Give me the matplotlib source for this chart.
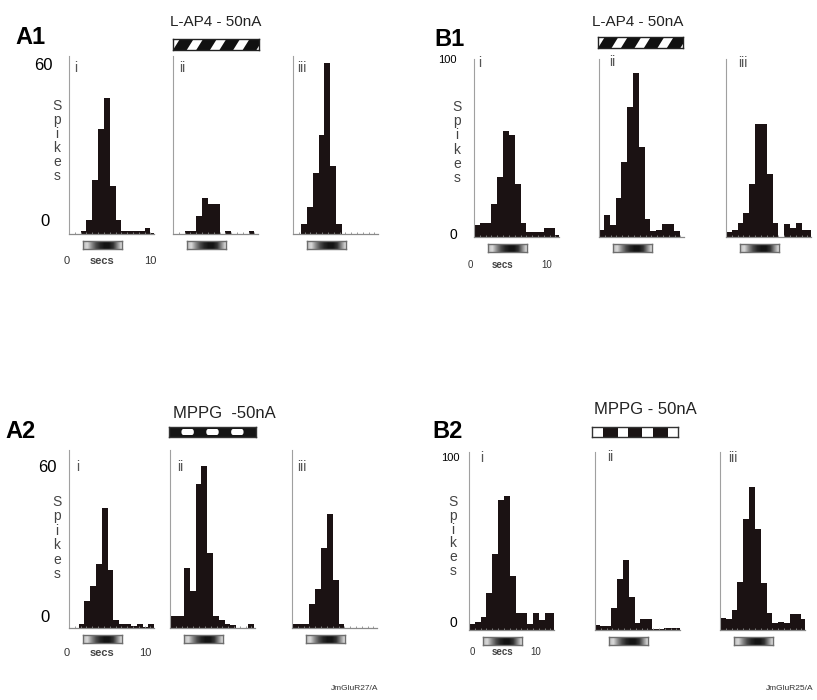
import numpy as np
import matplotlib
matplotlib.use("Agg")
import matplotlib.pyplot as plt
from matplotlib.patches import Polygon, Rectangle, Ellipse

plt.rcParams["font.family"] = ["Liberation Sans", "DejaVu Sans"]

W, H = 817, 700
BIN = 0.75          # seconds per histogram bin
XMAX = 10.9         # seconds shown on each axis
STIM = (1.8, 6.8)   # stimulus window (s)

# spike counts per bin, cell A (scale 0-60)
a1_i = [0, 0, 1, 5, 19, 37, 48, 17, 5, 1, 1, 1, 1, 2, 0.5]
a1_ii = [0, 0, 1, 1, 6.4, 12.7, 10.7, 10.7, 0, 1, 0, 0, 0, 1, 0]
a1_iii = [0, 3.4, 9.7, 21.5, 35, 60.6, 24, 3.4, 0, 0, 0, 0, 0, 0, 0]
a2_i = [0, 0, 1.4, 9.5, 14.8, 22.7, 42.6, 20.5, 3, 1.4, 1.4, 0.7, 1.4, 0.5, 1.4]
a2_ii = [4.4, 4.4, 4.4, 21.3, 13, 51, 57.4, 26.4, 4.4, 3, 1.4, 1, 0, 0, 1.5]
a2_iii = [1.4, 1.4, 1.4, 8.6, 13.8, 28.4, 40.2, 17, 1.5, 0, 0, 0, 0, 0, 0]

# spike counts per bin, cell B (scale 0-100)
b1_i = [7, 8, 8, 19, 34, 60, 58, 30, 8, 3, 3, 3, 5, 5, 1]
b1_ii = [4, 12.6, 7, 22, 42.7, 74, 93, 51, 10.4, 3.2, 3.8, 7.5, 7.5, 3.2, 0]
b1_iii = [2.8, 3.8, 7.9, 13.6, 30, 64, 64, 36, 7.9, 0, 7.5, 5, 7.9, 4, 4]
b2_i = [3.2, 4.3, 7.5, 21, 43, 74, 76, 30.5, 9.4, 9.4, 3.4, 9.4, 5.6, 9.4, 9.4]
b2_ii = [2.8, 2.3, 2.3, 12.2, 29, 39.5, 18.8, 4.1, 6.2, 6.2, 0.4, 0.4, 1, 1, 1]
b2_iii = [6.6, 6, 11.3, 27.3, 63, 81, 57.4, 26.7, 9.4, 4.1, 4.7, 4.1, 8.9, 8.9, 6]

# bin offset of the first bin in each histogram (in bins)
shift_a1 = [0, 0, 0.4]
shift_a2 = [-0.35, -0.6, 0]
shift_b1 = [0, -0.15, 0]
shift_b2 = [0, -0.2, 0]

BAR = "#1b1213"
AX_COL = "#8a8a8a"
AX_W = 84.5

fig = plt.figure(figsize=(W / 100, H / 100), dpi=100)


def px_axes(left, top, width, height):
    return fig.add_axes([left / W, 1 - (top + height) / H, width / W, height / H])


def ftext(x, y, s, **kw):
    kw.setdefault("ha", "center")
    kw.setdefault("va", "center")
    fig.text(x / W, 1 - y / H, s, **kw)


def bare(ax, edge="#222222", lw=1.0):
    ax.set_xticks([])
    ax.set_yticks([])
    for sp in ax.spines.values():
        sp.set_color(edge)
        sp.set_linewidth(lw)


def stim_bar(left, top):
    px_per_s = AX_W / XMAX
    ax = px_axes(left + STIM[0] * px_per_s, top, (STIM[1] - STIM[0]) * px_per_s, 8)
    prof_x = np.linspace(0, 1, 10)
    prof_y = [0.75, 0.85, 0.55, 0.3, 0.15, 0.08, 0.08, 0.2, 0.55, 0.9]
    grad = np.interp(np.linspace(0, 1, 200), prof_x, prof_y)
    ax.imshow(grad[None, :], cmap="gray", vmin=0, vmax=1, aspect="auto",
              extent=[0, 1, 0, 1], interpolation="bilinear")
    bare(ax, "#6e6e6e")


def histogram(left, base, counts, shift, ytop):
    height = 178
    ax = px_axes(left, base - height, AX_W, height)
    edges = (np.arange(len(counts)) + shift) * BIN
    ax.bar(edges, counts, width=BIN, align="edge", color=BAR, linewidth=0)
    ax.set_xlim(0, XMAX)
    ax.set_ylim(0, ytop)
    ax.set_yticks([])
    ax.set_xticks(np.arange(1, 15) * BIN)
    ax.tick_params(axis="x", direction="in", length=1.5, width=0.6,
                   color=AX_COL, labelbottom=False)
    for side in ("top", "right"):
        ax.spines[side].set_visible(False)
    ax.spines["left"].set_color("#a0a0a0")
    ax.spines["left"].set_linewidth(0.8)
    ax.spines["bottom"].set_color(AX_COL)
    ax.spines["bottom"].set_linewidth(0.9)
    ax.patch.set_alpha(0)
    stim_bar(left, base + 7)
    return ax


def lap4_bar(left, top, width):
    # diagonal black/white stripes
    ax = px_axes(left, top, width, 11)
    ax.set_xlim(0, 1)
    ax.set_ylim(0, 1)
    for k in range(-1, 5):
        x0 = k * 0.27
        ax.add_patch(Polygon([(x0, 0), (x0 + 0.16, 0), (x0 + 0.24, 1), (x0 + 0.08, 1)],
                             closed=True, color="#111111", lw=0))
    bare(ax)


def mppg_bar(left, top, width, dark_ends):
    # alternating blocks
    ax = px_axes(left, top, width, 10)
    ax.set_xlim(0, 7)
    ax.set_ylim(0, 1)
    if dark_ends:
        ax.add_patch(Rectangle((0, 0), 7, 1, color="#151515", lw=0))
        for c in (1.5, 3.5, 5.5):
            ax.add_patch(Rectangle((c - 0.35, 0.2), 0.7, 0.6, color="white", lw=0))
            ax.add_patch(Ellipse((c - 0.35, 0.5), 0.3, 0.6, color="white", lw=0))
            ax.add_patch(Ellipse((c + 0.35, 0.5), 0.3, 0.6, color="white", lw=0))
    else:
        for c in (1.5, 3.5, 5.6):
            ax.add_patch(Rectangle((c - 0.6, 0), 1.2, 1, color="#1a1414", lw=0))
    bare(ax, "#333333")


def spikes_label(x, y0, y1):
    for ch, y in zip("Spikes", np.linspace(y0, y1, 6)):
        ftext(x, y, ch, fontsize=10, color="#444444")


def secs_label(x0, xs, x10, y, size):
    ftext(x0, y, "0", fontsize=size, color="#333333")
    ftext(xs, y, "secs", fontsize=size, color="#444444", fontweight="bold")
    ftext(x10, y, "10", fontsize=size, color="#333333")


roman = ["i", "ii", "iii"]

# ---- A1 : L-AP4 ----
for left, c, s in zip([69, 173, 293], [a1_i, a1_ii, a1_iii], shift_a1):
    histogram(left, 234, c, s, 63)
ftext(30, 37, "A1", fontsize=17, fontweight="bold")
ftext(216, 22, "L-AP4 - 50nA", fontsize=11, color="#222222")
lap4_bar(173, 39, 86)
ftext(43, 65, "60", fontsize=12)
ftext(45, 222, "0", fontsize=12)
spikes_label(57, 106, 176)
for (x, y), r in zip([(76, 68), (182, 68), (302, 68)], roman):
    ftext(x, y, r, fontsize=10, color="#555555")
secs_label(67, 102, 150, 261, 8)

# ---- B1 : L-AP4 ----
for left, c, s in zip([474, 599, 726], [b1_i, b1_ii, b1_iii], shift_b1):
    histogram(left, 237, c, s, 101)
ftext(450, 40, "B1", fontsize=17, fontweight="bold")
ftext(638, 22, "L-AP4 - 50nA", fontsize=11, color="#222222")
lap4_bar(598, 37, 85)
ftext(447, 60, "100", fontsize=8)
ftext(453, 235, "0", fontsize=10)
spikes_label(457, 107, 178)
for (x, y), r in zip([(480, 63), (612, 62), (743, 63)], roman):
    ftext(x, y, r, fontsize=10, color="#555555")
secs_label(470, 503, 547, 265, 7)

# ---- A2 : MPPG ----
for left, c, s in zip([69, 170, 292], [a2_i, a2_ii, a2_iii], shift_a2):
    histogram(left, 628, c, s, 63)
ftext(21, 432, "A2", fontsize=17, fontweight="bold")
ftext(224, 413, "MPPG  -50nA", fontsize=12, color="#222222")
mppg_bar(169, 427, 87, dark_ends=True)
ftext(47, 467, "60", fontsize=12)
ftext(45, 618, "0", fontsize=12)
spikes_label(57, 502, 574)
for (x, y), r in zip([(78, 467), (180, 467), (302, 467)], roman):
    ftext(x, y, r, fontsize=10, color="#555555")
secs_label(67, 102, 145, 653, 8)

# ---- B2 : MPPG ----
for left, c, s in zip([469, 595, 720], [b2_i, b2_ii, b2_iii], shift_b2):
    histogram(left, 630, c, s, 101)
ftext(448, 432, "B2", fontsize=17, fontweight="bold")
ftext(645, 410, "MPPG - 50nA", fontsize=12, color="#222222")
mppg_bar(592, 427, 86, dark_ends=False)
ftext(450, 458, "100", fontsize=8)
ftext(453, 623, "0", fontsize=10)
spikes_label(453, 502, 571)
for (x, y), r in zip([(482, 458), (610, 457), (733, 458)], roman):
    ftext(x, y, r, fontsize=10, color="#555555")
secs_label(472, 503, 536, 652, 7)

ftext(355, 688, "JmGluR27/A", fontsize=6, color="#333333")
ftext(790, 688, "JmGluR25/A", fontsize=6, color="#333333")

fig.savefig("out.png", dpi=100, facecolor="white")
